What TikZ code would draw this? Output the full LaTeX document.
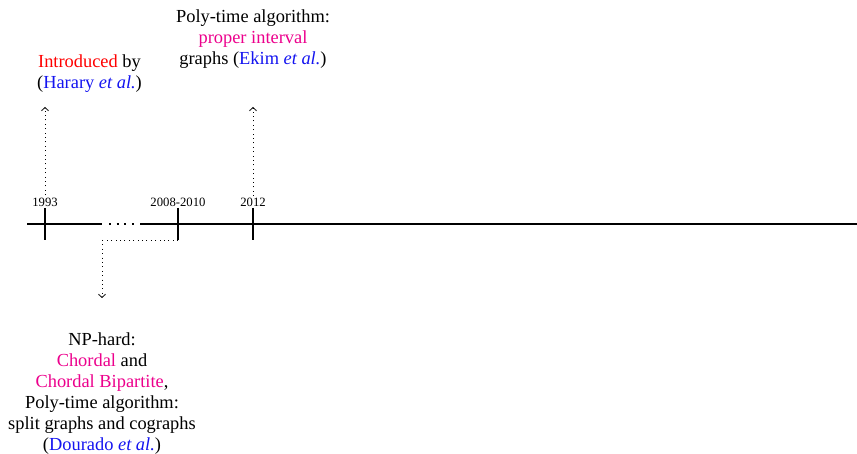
\documentclass[tikz,border=0pt]{standalone}
\usepackage{fontspec}
\setmainfont{Liberation Serif}
\usetikzlibrary{arrows.meta}
\definecolor{cred}{RGB}{255,0,0}
\definecolor{cmag}{RGB}{236,0,140}
\definecolor{cblue}{RGB}{20,20,240}
\tikzset{
  axisline/.style={line width=1.7pt},
  tickline/.style={line width=1.9pt},
  gapdots/.style={line width=2pt, dash pattern=on 2pt off 5.6pt},
  conn/.style={line width=0.8pt, dash pattern=on 0.8pt off 3.6pt,
    -{Straight Barb[length=3.2pt,width=7pt,line width=0.8pt]}},
  connplain/.style={line width=0.8pt, dash pattern=on 0.8pt off 3.6pt},
  yearlbl/.style={font=\fontsize{12.7}{14}\selectfont, inner sep=0pt, anchor=base},
  note/.style={font=\fontsize{18.4}{21}\selectfont, align=center, inner sep=0pt, anchor=north},
}
\newcommand{\hl}[2]{\textcolor{#1}{#2}}
\begin{document}
\begin{tikzpicture}[x=1pt,y=-1pt]
\useasboundingbox (0,0) rectangle (857,454);
% axis
\coordinate (a0) at (27,224);
\coordinate (a1) at (102,224);
\coordinate (d0) at (109,224);
\coordinate (d1) at (135,224);
\coordinate (a2) at (140,224);
\coordinate (a3) at (857,224);
\draw[axisline] (a0) -- (a1);
\draw[gapdots] (d0) -- (d1);
\draw[axisline] (a2) -- (a3);
% ticks
\coordinate (t1t) at (45,208);  \coordinate (t1b) at (45,240);
\coordinate (t2t) at (178,208); \coordinate (t2b) at (178,240);
\coordinate (t3t) at (253,208); \coordinate (t3b) at (253,240);
\draw[tickline] (t1t) -- (t1b);
\draw[tickline] (t2t) -- (t2b);
\draw[tickline] (t3t) -- (t3b);
% year labels
\node[yearlbl] (y1) at (45,206.7) {1993};
\node[yearlbl] (y2) at (178,206.7) {2008-2010};
\node[yearlbl] (y3) at (253,206.7) {2012};
% notes
\node[note] (n1) at (89.5,54.2) {\hl{cred}{Introduced} by\\(\hl{cblue}{Harary \textit{et al.}})};
\node[note] (n3) at (253,9.3) {Poly-time algorithm:\\\hl{cmag}{proper interval}\\graphs (\hl{cblue}{Ekim \textit{et al.}})};
\node[note] (n2) at (102,332.5) {NP-hard:\\\hl{cmag}{Chordal} and\\\hl{cmag}{Chordal Bipartite},\\Poly-time algorithm:\\split graphs and cographs\\(\hl{cblue}{Dourado \textit{et al.}})};
% connectors
\coordinate (e1) at (45,107);
\coordinate (e3) at (253,107);
\coordinate (c2) at (102,240);
\coordinate (e2) at (102,298);
\draw[conn, shorten <=3pt] (y1.north) -- (e1);
\draw[conn, shorten <=2pt] (y3.north) -- (e3);
\draw[connplain] (t2b) -- (c2);
\draw[conn] (c2) -- (e2);
\end{tikzpicture}
\end{document}
